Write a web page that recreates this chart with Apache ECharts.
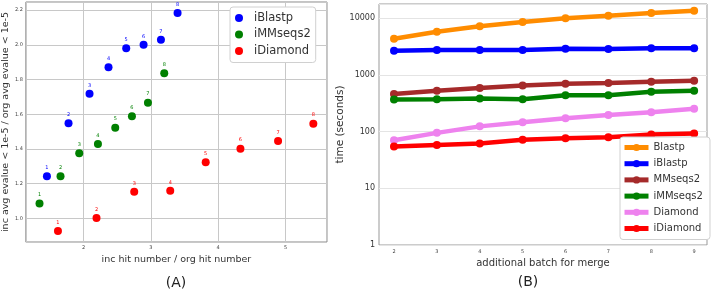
<!DOCTYPE html>
<html>
<head>
  <meta charset="UTF-8">
  <title>Merge comparison</title>
  <script src="https://cdn.jsdelivr.net/npm/echarts@6/dist/echarts.min.js"></script>
  <style type="text/css">
  html, body { margin: 0; padding: 0; background: #ffffff; }
  </style>
</head>
<body>
  <div id="chart" style="width:711px; height:290px;"></div>

  <script>
    // (A) scatter: [inc hit / org hit, inc evalue ratio]
    var iBlastpPts = [[1.456, 1.243], [1.777, 1.549], [2.089, 1.718], [2.371, 1.871],
                      [2.634, 1.981], [2.892, 2.000], [3.150, 2.029], [3.397, 2.184]];
    var iMMseqs2Pts = [[1.346, 1.086], [1.658, 1.243], [1.936, 1.375], [2.214, 1.429],
                       [2.471, 1.523], [2.719, 1.588], [2.957, 1.667], [3.199, 1.837]];
    var iDiamondPts = [[1.620, 0.927], [2.193, 1.002], [2.753, 1.153], [3.288, 1.159],
                       [3.815, 1.324], [4.331, 1.402], [4.890, 1.446], [5.414, 1.546]];

    // (B) time in seconds per additional batch
    var batches = [2, 3, 4, 5, 6, 7, 8, 9];
    var blastp   = [4360, 5800, 7220, 8600, 10000, 11120, 12400, 13620];
    var iBlastp  = [2680, 2750, 2750, 2750, 2900, 2880, 2950, 2950];
    var mmseqs2  = [460, 526, 587, 655, 699, 719, 758, 790];
    var iMMseqs2 = [371, 375, 386, 375, 441, 441, 505, 526];
    var diamond  = [70.8, 95.2, 124, 147, 173, 196, 221, 253];
    var iDiamond = [54.8, 58.4, 61.9, 72, 76.8, 80, 89.3, 93];

    var font = 'DejaVu Sans';
    var chart = echarts.init(document.getElementById('chart'), null, {renderer: 'canvas'});

    function pairs(ys) {
      return batches.map(function (b, i) { return [b, ys[i]]; });
    }

    function scatter(name, color, pts) {
      return {
        name: name, type: 'scatter', xAxisIndex: 0, yAxisIndex: 0,
        data: pts, symbolSize: 8, itemStyle: {color: color, opacity: 1},
        label: {
          show: true, position: 'top', distance: 2,
          fontSize: 5, fontFamily: font, color: color,
          formatter: function (p) { return String(p.dataIndex + 1); }
        }
      };
    }

    function line(name, color, ys) {
      return {
        name: name, type: 'line', xAxisIndex: 1, yAxisIndex: 1,
        data: pairs(ys), symbol: 'circle', symbolSize: 8,
        lineStyle: {color: color, width: 4.5}, itemStyle: {color: color}
      };
    }

    var tickLabel = {fontSize: 5, fontFamily: font, color: '#444', showMinLabel: false, showMaxLabel: false};

    chart.setOption({
      animation: false,
      textStyle: {fontFamily: font},
      grid: [
        {left: 24, top: 2, width: 303, height: 240, show: true, borderColor: '#888', borderWidth: 1},
        {left: 379, top: 4, width: 328, height: 241, show: true, borderColor: '#999', borderWidth: 1}
      ],
      xAxis: [
        {
          type: 'value', gridIndex: 0, min: 1.143, max: 5.617, splitNumber: 5,
          axisLine: {show: false}, axisTick: {show: false},
          axisLabel: Object.assign({margin: 3}, tickLabel),
          splitLine: {lineStyle: {color: '#c8c8c8'}},
          name: 'inc hit number / org hit number', nameLocation: 'middle', nameGap: 10,
          nameTextStyle: {fontSize: 9.5, color: '#333'}
        },
        {
          type: 'value', gridIndex: 1, min: 1.65, max: 9.3, splitNumber: 8,
          axisLine: {show: false}, axisTick: {show: false},
          axisLabel: Object.assign({margin: 4}, tickLabel),
          splitLine: {show: false},
          name: 'additional batch for merge', nameLocation: 'middle', nameGap: 11,
          nameTextStyle: {fontSize: 10, color: '#333'}
        }
      ],
      yAxis: [
        {
          type: 'value', gridIndex: 0, min: 0.864, max: 2.247, splitNumber: 7,
          axisLine: {show: false}, axisTick: {show: false},
          axisLabel: Object.assign({margin: 3}, tickLabel, {
            formatter: function (v) { return v.toFixed(1); }
          }),
          splitLine: {lineStyle: {color: '#c8c8c8'}},
          name: 'inc avg evalue < 1e-5 / org avg evalue < 1e-5', nameLocation: 'middle', nameGap: 12,
          nameTextStyle: {fontSize: 9.5, color: '#333'}
        },
        {
          type: 'log', gridIndex: 1, min: 1, max: 17900, logBase: 10,
          axisLine: {show: false}, axisTick: {show: false},
          axisLabel: {
            fontSize: 8, fontFamily: font, color: '#333', margin: 4, showMaxLabel: false,
            formatter: function (v) { return String(Math.round(v)); }
          },
          splitLine: {lineStyle: {color: '#e4e4e4'}},
          name: 'time (seconds)', nameLocation: 'middle', nameGap: 33,
          nameTextStyle: {fontSize: 10.5, color: '#333'}
        }
      ],
      legend: [
        {
          data: ['iBlastp', 'iMMseqs2', 'iDiamond'], orient: 'vertical',
          left: 230, top: 7, padding: [4.5, 5, 5, 5], itemGap: 3.5,
          itemWidth: 20, itemHeight: 8, icon: 'circle',
          backgroundColor: '#fff', borderColor: '#d0d0d0', borderWidth: 1, borderRadius: 3,
          textStyle: {fontSize: 11.5, fontFamily: font, color: '#333', lineHeight: 13}
        },
        {
          data: ['Blastp', 'iBlastp ', 'MMseqs2', 'iMMseqs2 ', 'Diamond', 'iDiamond '],
          orient: 'vertical',
          left: 620, top: 137, padding: [4.5, 4, 5, 2], itemGap: 4.2,
          itemWidth: 24, itemHeight: 9,
          lineStyle: {width: 5},
          backgroundColor: '#fff', borderColor: '#d0d0d0', borderWidth: 1, borderRadius: 3,
          textStyle: {fontSize: 10, fontFamily: font, color: '#333', lineHeight: 12}
        }
      ],
      graphic: [
        {type: 'text', x: 176, y: 283, style: {text: '(A)', fontSize: 14, fontFamily: font, fill: '#222', align: 'center', verticalAlign: 'middle'}},
        {type: 'text', x: 528, y: 282, style: {text: '(B)', fontSize: 14, fontFamily: font, fill: '#222', align: 'center', verticalAlign: 'middle'}}
      ],
      series: [
        scatter('iBlastp', '#0000ff', iBlastpPts),
        scatter('iMMseqs2', '#008000', iMMseqs2Pts),
        scatter('iDiamond', '#ff0000', iDiamondPts),
        line('Blastp', '#ff8c00', blastp),
        line('iBlastp ', '#0000ff', iBlastp),
        line('MMseqs2', '#a52a2a', mmseqs2),
        line('iMMseqs2 ', '#008000', iMMseqs2),
        line('Diamond', '#ee82ee', diamond),
        line('iDiamond ', '#ff0000', iDiamond)
      ]
    });
  </script>
</body>
</html>
